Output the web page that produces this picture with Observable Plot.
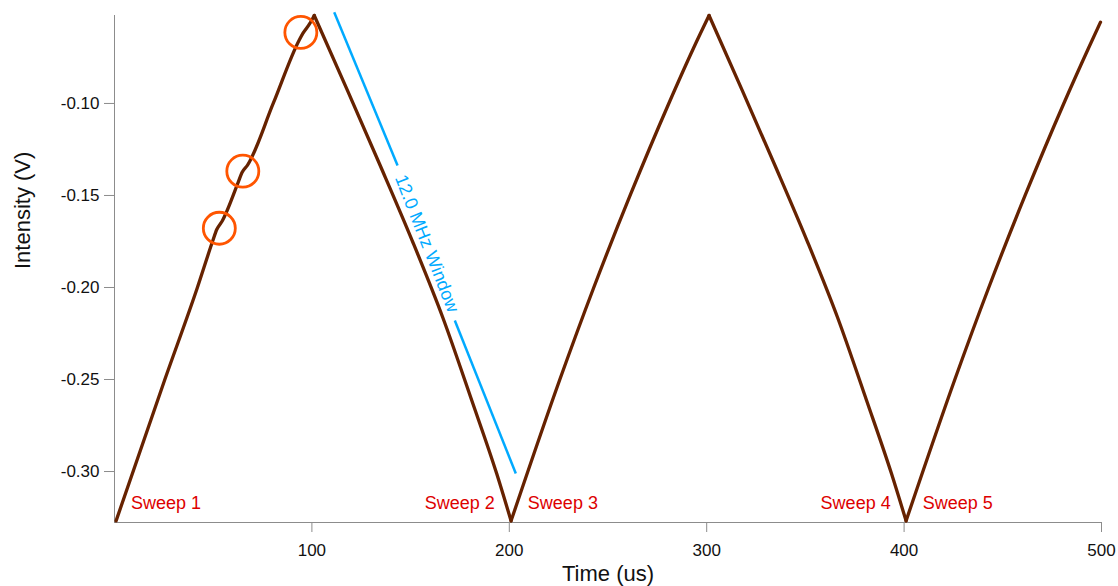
<!DOCTYPE html>
<html>
<head>
<meta charset="utf-8">
<script src="https://cdn.jsdelivr.net/npm/d3@7"></script>
<script src="https://cdn.jsdelivr.net/npm/@observablehq/plot@0.6"></script>
<style>
  body { margin: 0; background: #fff; }
</style>
</head>
<body>
<div id="chart"></div>
<script>
// Ramp signal, one array pair per sweep (time in microseconds, intensity in volts).
// Neighbouring sweeps share their turning point.
const sweep1Time = [0.8, 25.5, 42.0, 49.7, 51.8, 54.5, 62.6, 64.6, 67.4, 80.4, 93.6, 95.5, 98.8, 101.2];
const sweep1V = [-0.3268, -0.2500, -0.2000, -0.1749, -0.1685, -0.1640, -0.1430, -0.1375, -0.1335, -0.1000, -0.0655, -0.0618, -0.0568, -0.0522];
const sweep2Time = [101.2, 118.0, 134.6, 150.8, 166.3, 181.0, 193.6, 200.9];
const sweep2V = [-0.0522, -0.0929, -0.1337, -0.1745, -0.2163, -0.2614, -0.3011, -0.3268];
const sweep3Time = [200.9, 225.6, 242.8, 261.2, 280.8, 293.3, 301.2];
const sweep3V = [-0.3268, -0.2500, -0.2000, -0.1500, -0.1000, -0.0700, -0.0522];
const sweep4Time = [301.2, 318.0, 334.6, 350.8, 366.3, 381.0, 393.6, 401.0];
const sweep4V = [-0.0522, -0.0929, -0.1337, -0.1745, -0.2163, -0.2614, -0.3011, -0.3268];
const sweep5Time = [401.0, 425.7, 442.9, 461.3, 480.9, 493.4, 499.5];
const sweep5V = [-0.3268, -0.2500, -0.2000, -0.1500, -0.1000, -0.0700, -0.0558];

// Sweep labels near each turning point
const sweepNames = ["Sweep 1", "Sweep 2", "Sweep 3", "Sweep 4", "Sweep 5"];
const sweepLabelTime = [8.4, 192.7, 209.4, 393.2, 409.4];
const sweepLabelSide = ["start", "end", "start", "end", "start"];
const sweepLabelLevel = -0.3201;

// Highlighted kinks on the first sweep
const markedTime = [53.1, 65.0, 94.4];
const markedIntensity = [-0.1678, -0.1368, -0.0614];

// Frequency window bracket (two segments around its label)
const windowTime = [111.3, 143.4, 172.4, 203.3];
const windowIntensity = [-0.0504, -0.1337, -0.2179, -0.3011];
const windowLabel = "12.0 MHz Window";
const windowLabelTime = 158.2;
const windowLabelIntensity = -0.1761;

const yTicks = [-0.30, -0.25, -0.20, -0.15, -0.10];
const xTicks = [100, 200, 300, 400, 500];
const yDomain = [-0.3277, -0.0522];

const sweepTimes = [sweep1Time, sweep2Time, sweep3Time, sweep4Time, sweep5Time];
const sweepValues = [sweep1V, sweep2V, sweep3V, sweep4V, sweep5V];
const signal = sweepTimes.flatMap((ts, s) => ts.map((t, i) => ({sweep: s + 1, t, v: sweepValues[s][i]})));
const sweeps = sweepNames.map((name, i) => ({name, t: sweepLabelTime[i], side: sweepLabelSide[i]}));
const marked = markedTime.map((t, i) => ({t, v: markedIntensity[i]}));
const windowSegments = [0, 1].map(k => ({
  t1: windowTime[2 * k], v1: windowIntensity[2 * k],
  t2: windowTime[2 * k + 1], v2: windowIntensity[2 * k + 1]
}));

const axisGray = "#8c8c8c";
const brown = "#662200";
const sweepRed = "#dd0000";
const windowBlue = "#00aaff";
const ringOrange = "#ff5500";

const chart = Plot.plot({
  width: 1118,
  height: 586,
  marginLeft: 114,
  marginRight: 17,
  marginTop: 15,
  marginBottom: 64,
  x: {domain: [0, 500]},
  y: {domain: yDomain},
  style: {fontFamily: "'Liberation Sans', Arial, sans-serif", background: "#fff", color: "#111"},
  marks: [
    Plot.ruleX([0], {stroke: axisGray, strokeWidth: 1}),
    Plot.ruleY([yDomain[0]], {stroke: axisGray, strokeWidth: 1}),
    Plot.axisY(yTicks, {
      tickSize: 10, tickPadding: 5, fontSize: 17,
      tickFormat: d => d.toFixed(2), stroke: axisGray, fill: "#111", label: null
    }),
    Plot.axisX(xTicks, {
      tickSize: 10, tickPadding: 11, fontSize: 17,
      tickFormat: d => String(d), stroke: axisGray, fill: "#111", label: null
    }),
    Plot.text(["Intensity (V)"], {
      text: d => d, frameAnchor: "left", dx: -92, rotate: -90, fontSize: 22, fill: "#111"
    }),
    Plot.text(["Time (us)"], {
      text: d => d, frameAnchor: "bottom", dy: 58, lineAnchor: "bottom", fontSize: 22, fill: "#111"
    }),
    Plot.link(windowSegments, {
      x1: "t1", y1: "v1", x2: "t2", y2: "v2", stroke: windowBlue, strokeWidth: 2.5
    }),
    Plot.text([windowLabel], {
      text: d => d, x: () => windowLabelTime, y: () => windowLabelIntensity,
      rotate: 68.5, fontSize: 18, fill: windowBlue
    }),
    Plot.line(signal, {
      x: "t", y: "v", z: "sweep", curve: "monotone-x",
      stroke: brown, strokeWidth: 3.3, strokeLinejoin: "round", strokeLinecap: "round"
    }),
    Plot.dot(marked, {x: "t", y: "v", r: 16, stroke: ringOrange, strokeWidth: 2.8, fill: "none"}),
    Plot.text(sweeps.filter(d => d.side === "start"), {
      x: "t", y: () => sweepLabelLevel, text: "name", textAnchor: "start",
      lineAnchor: "bottom", fontSize: 18, fill: sweepRed
    }),
    Plot.text(sweeps.filter(d => d.side === "end"), {
      x: "t", y: () => sweepLabelLevel, text: "name", textAnchor: "end",
      lineAnchor: "bottom", fontSize: 18, fill: sweepRed
    })
  ]
});

document.getElementById("chart").append(chart);
</script>
</body>
</html>
